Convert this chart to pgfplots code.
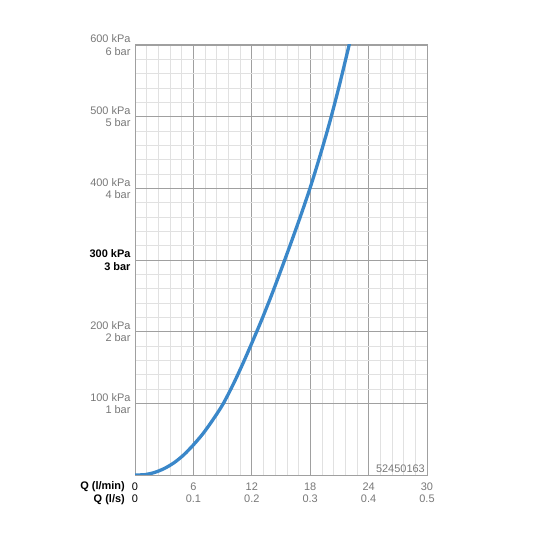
\documentclass[border=0pt]{standalone}
\usepackage{fontspec}
\setmainfont{Liberation Sans}
\usepackage{pgfplots}
\pgfplotsset{compat=1.18}
\definecolor{curve}{RGB}{58,135,201}
\definecolor{lbl}{RGB}{120,120,120}
\definecolor{majgrid}{RGB}{160,160,160}
\definecolor{mingrid}{RGB}{225,225,225}
\begin{document}
\begin{tikzpicture}
\begin{axis}[
    name=ax,
    scale only axis,
    width=292bp, height=430bp,
    xmin=0, xmax=30, ymin=0, ymax=600,
    xtick={0,6,...,30},
    ytick={100,200,...,600},
    xticklabels={{\textcolor{black}{0}\\\textcolor{black}{0}},{6\\0.1},{12\\0.2},{18\\0.3},{24\\0.4},{30\\0.5}},
    yticklabels={{100 kPa\\1 bar},{200 kPa\\2 bar},{\textbf{\textcolor{black}{300 kPa}}\\\textbf{\textcolor{black}{3 bar}}},{400 kPa\\4 bar},{500 kPa\\5 bar},{600 kPa\\6 bar}},
    xticklabel style={align=center, font=\fontsize{11}{12.5}\selectfont, text=lbl, yshift=-4bp},
    yticklabel style={align=right, font=\fontsize{11}{12.5}\selectfont, text=lbl, xshift=-1bp},
    /pgf/number format/assume math mode=true,
    minor x tick num=4, minor y tick num=4,
    major tick length=0pt, minor tick length=0pt,
    grid=both,
    major grid style={majgrid, line width=0.8bp},
    minor grid style={mingrid, line width=0.6bp},
    axis line style={majgrid, line width=1bp},
    clip mode=individual,
]
\addplot[curve, line width=3.3bp, smooth] coordinates {
  (0,0) (1,0.5) (2,3.5) (3,9) (4,17) (5,28) (6,42) (7,58) (8,77)
  (9,98) (10,124) (11,153) (12,184) (13,216) (14,250) (15,286)
  (16,323) (17,361) (18,401) (19,445) (20,492) (21,544) (22,600) (22.4,623)
};
\node[anchor=south east, text=lbl, font=\fontsize{11}{12}\selectfont, inner sep=2bp] at (rel axis cs:1,0) {52450163};
\node[anchor=north east, align=right, font=\bfseries\fontsize{11}{12.5}\selectfont, inner sep=0pt] at ([xshift=-10bp,yshift=-6.5bp]rel axis cs:0,0) {Q (l/min)\\Q (l/s)};
\end{axis}
\path (ax.south west) ++(-135bp,-61bp) rectangle ++(536bp,536bp);
\end{tikzpicture}
\end{document}
